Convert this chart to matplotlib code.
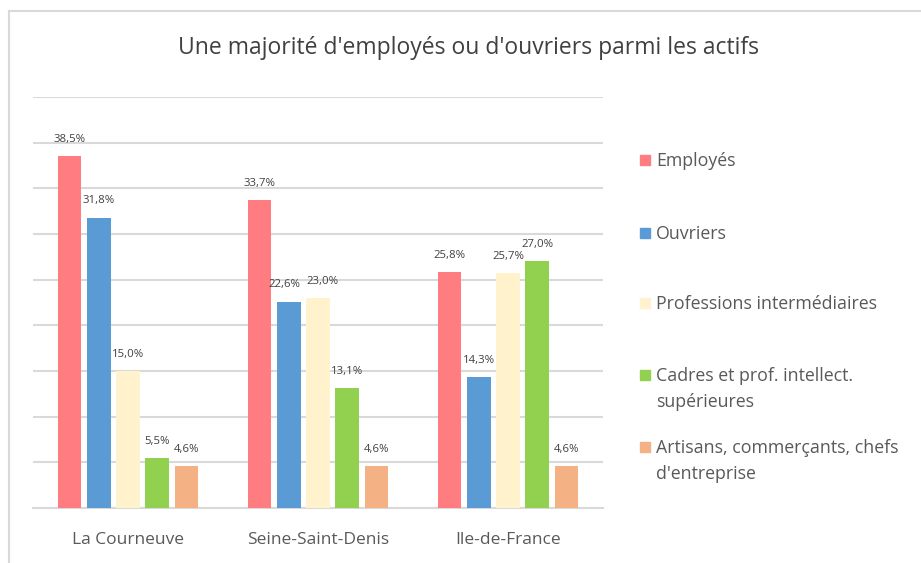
import matplotlib
matplotlib.use("Agg")
import matplotlib.pyplot as plt
import matplotlib.patches as patch
from matplotlib.lines import Line2D
import numpy as np

plt.rcParams['font.family'] = ['Open Sans', 'DejaVu Sans']

zones = ["La Courneuve", "Seine-Saint-Denis", "Ile-de-France"]
series = ["Employés", "Ouvriers", "Professions intermédiaires",
          "Cadres et prof. intellect.\nsupérieures",
          "Artisans, commerçants, chefs\nd'entreprise"]
employes = [38.5, 33.7, 25.8]
ouvriers = [31.8, 22.6, 14.3]
prof_inter = [15.0, 23.0, 25.7]
cadres = [5.5, 13.1, 27.0]
artisans = [4.6, 4.6, 4.6]
colors = ["#FF7C80", "#5B9BD5", "#FFF2CC", "#92D050", "#F4B183"]

W, H = 921, 563
fig = plt.figure(figsize=(W / 100, H / 100), dpi=100)
ax = fig.add_axes([33 / W, (H - 508) / H, 570 / W, 411 / H])

values = [employes, ouvriers, prof_inter, cadres, artisans]
x = np.arange(len(zones)) + 0.5
stride, width = 0.153, 0.122
# small horizontal nudges (points) for the two crowded labels
nudge = {(1, 1): -3, (2, 1): 3}
for i, vals in enumerate(values):
    pos = x + (i - 2) * stride
    bars = ax.bar(pos, vals, width, color=colors[i], zorder=3)
    for j, (b, v) in enumerate(zip(bars, vals)):
        ax.annotate(f"{v:.1f}%".replace(".", ","),
                    (b.get_x() + b.get_width() / 2, v),
                    xytext=(nudge.get((i, j), 0), 8), textcoords="offset points",
                    ha="center", va="bottom", fontsize=8.2, color="#404040", zorder=4)

ax.set_xlim(0, 3)
ax.set_ylim(0, 45)
ax.set_yticks(np.arange(0, 46, 5))
ax.yaxis.grid(True, color="#D9D9D9", linewidth=1.5, zorder=0)
ax.tick_params(left=False, labelleft=False, bottom=False)
ax.set_xticks(x)
ax.set_xticklabels(zones, fontsize=12.5, color="#595959")
ax.tick_params(axis="x", pad=14)
for s in ["left", "right", "top"]:
    ax.spines[s].set_visible(False)
ax.spines["bottom"].set_color("#D9D9D9")
ax.spines["bottom"].set_linewidth(1.5)

fig.text(468 / W, 1 - 48 / H, "Une majorité d'employés ou d'ouvriers parmi les actifs",
         ha="center", va="center", fontsize=16.5, color="#404040")

# legend drawn by hand
leg_y = [160, 233, 303, 375, 447]
for i, lab in enumerate(series):
    y = leg_y[i]
    fig.patches.append(patch.Rectangle((640 / W, 1 - (y + 5) / H), 10 / W, 10 / H,
                                       transform=fig.transFigure, color=colors[i]))
    fig.text(656 / W, 1 - (y - 8) / H, lab, ha="left", va="top",
             fontsize=12.8, color="#595959", linespacing=1.6)

# chart frame
fig.lines.append(Line2D([9 / W, 9 / W], [0, 1 - 11 / H], transform=fig.transFigure,
                        color="#D9D9D9", linewidth=1.5))
fig.lines.append(Line2D([9 / W, 1], [1 - 11 / H, 1 - 11 / H], transform=fig.transFigure,
                        color="#D9D9D9", linewidth=1.5))

fig.savefig("out.png", dpi=100)
